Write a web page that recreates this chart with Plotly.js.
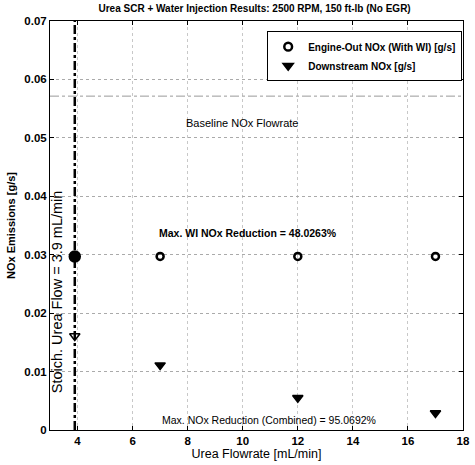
<!DOCTYPE html>
<html><head><meta charset="utf-8">
<script src="https://cdn.plot.ly/plotly-3.0.1.min.js"></script>
<style>body{margin:0;background:#fff}#c{width:475px;height:465px}</style>
</head><body><div id="c"></div>
<script>
const ureaFlow = [7, 12, 17, 3.9];
const engineOutNOx = [0.0297, 0.0297, 0.0297, 0.0297];
const downstreamNOx = [0.0111, 0.0055, 0.0029, 0.0161];
const stoichFlow = 3.9;
const baselineNOx = 0.05714;
const xTicks = [4, 6, 8, 10, 12, 14, 16, 18];
const yTicks = [0, 0.01, 0.02, 0.03, 0.04, 0.05, 0.06, 0.07];
const yTickText = ['0', '0.01', '0.02', '0.03', '0.04', '0.05', '0.06', '0.07'];

const F = 'Liberation Sans, Arial, sans-serif';

const traces = [
  {x: [stoichFlow, stoichFlow], y: [0, 0.07], mode: 'lines', showlegend: false, hoverinfo: 'skip',
   line: {color: '#000', width: 2.5, dash: 'dashdot'}},
  {x: [3, 18], y: [baselineNOx, baselineNOx], mode: 'lines', showlegend: false, hoverinfo: 'skip',
   line: {color: '#999', width: 1, dash: 'dashdot'}},
  {x: ureaFlow, y: engineOutNOx, mode: 'markers', name: 'Engine-Out NOx (With WI) [g/s]',
   marker: {symbol: ['circle-open', 'circle-open', 'circle-open', 'circle'], size: [7, 7, 7, 10], color: '#000', opacity: 1,
     line: {color: '#000', width: 2.5}}},
  {x: ureaFlow, y: downstreamNOx, mode: 'markers', name: 'Downstream NOx [g/s]',
   marker: {symbol: ['triangle-down', 'triangle-down', 'triangle-down', 'triangle-down-open'], size: 9, color: '#000', opacity: 1,
     line: {color: '#000', width: 1.5}}}
];

const axisCommon = {
  showline: true, mirror: 'ticks', linecolor: '#000', linewidth: 1,
  ticks: 'inside', ticklen: 4, tickcolor: '#000',
  showgrid: true, gridcolor: '#aaa', griddash: 'dot', gridwidth: 1,
  zeroline: false,
  tickfont: {family: F, size: 11.5, color: '#000', weight: 'bold'}
};

const layout = {
  width: 475, height: 465,
  margin: {l: 50, r: 12, t: 21, b: 35},
  paper_bgcolor: '#fff', plot_bgcolor: '#fff',
  font: {family: F, color: '#000'},
  title: {text: 'Urea SCR + Water Injection Results: 2500 RPM, 150 ft-lb (No EGR)',
    font: {family: F, size: 10, color: '#000', weight: 'bold'}, x: 0.536, xanchor: 'center', y: 0.99, yanchor: 'top'},
  xaxis: Object.assign({}, axisCommon, {range: [3, 18], tickvals: xTicks, ticktext: xTicks.map(String),
    gridcolor: '#c8c8c8',
    title: {text: 'Urea Flowrate [mL/min]', font: {family: F, size: 12.5, color: '#000'}, standoff: 1}}),
  yaxis: Object.assign({}, axisCommon, {range: [0, 0.07], tickvals: yTicks, ticktext: yTickText,
    title: {text: 'NOx Emissions [g/s]', font: {family: F, size: 11, color: '#000', weight: 'bold'}, standoff: 6}}),
  legend: {x: 0.998, y: 0.975, xanchor: 'right', yanchor: 'top', bgcolor: '#fff',
    bordercolor: '#000', borderwidth: 1, font: {family: F, size: 10, color: '#000', weight: 'bold'},
    tracegroupgap: 0, itemwidth: 30},
  annotations: [
    {x: 10, y: 0.0525, xref: 'x', yref: 'y', text: 'Baseline NOx Flowrate', showarrow: false,
     font: {family: F, size: 11, color: '#000'}},
    {x: 10.2, y: 0.0338, xref: 'x', yref: 'y', text: 'Max. WI NOx Reduction = 48.0263%', showarrow: false,
     font: {family: F, size: 10.5, color: '#000', weight: 'bold'}},
    {x: 10.97, y: 0.0017, xref: 'x', yref: 'y', text: 'Max. NOx Reduction (Combined) = 95.0692%', showarrow: false,
     font: {family: F, size: 10.5, color: '#000'}},
    {x: 3.26, y: 0.0236, xref: 'x', yref: 'y', text: 'Stoich. Urea Flow = 3.9 mL/min', showarrow: false,
     textangle: -90, font: {family: F, size: 14.5, color: '#000'}}
  ]
};

Plotly.newPlot('c', traces, layout, {displayModeBar: false, staticPlot: true});
</script>
</body></html>
